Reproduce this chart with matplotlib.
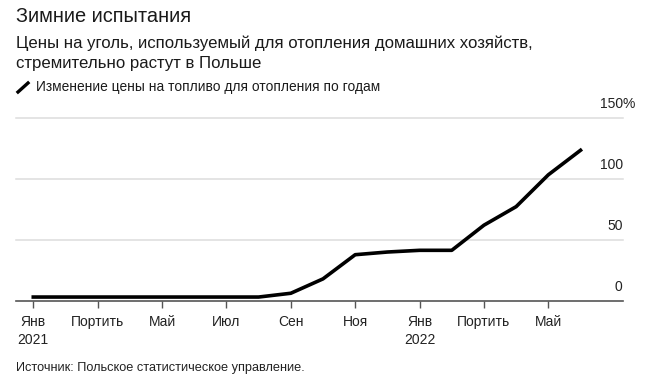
import matplotlib.pyplot as plt
import matplotlib.transforms as mtransforms

plt.rcParams['font.family'] = ['Liberation Sans', 'DejaVu Sans']

# monthly year-on-year change, Jan 2021 .. Jun 2022 (%)
months = list(range(18))
change = [3.0, 3.0, 3.0, 3.0, 3.0, 3.0, 3.0, 3.0, 6.1, 17.9, 37.7, 39.9,
          41.3, 41.3, 61.9, 77.1, 103.2, 123.3]

tick_pos = [0, 2, 4, 6, 8, 10, 12, 14, 16]
tick_labels = ["Янв\n2021", "Портить", "Май", "Июл", "Сен", "Ноя",
               "Янв\n2022", "Портить", "Май"]
y_ticks = [0, 50, 100, 150]
y_labels = ["0", "50", "100", "150"]

W, H = 656, 389
fig = plt.figure(figsize=(W / 100, H / 100), dpi=100)
ax = fig.add_axes([16 / W, 1 - 300.7 / H, 606.7 / W, 183 / H])

for v in y_ticks[1:]:
    ax.axhline(v, color="#dddddd", lw=1.1, zorder=1, clip_on=False)

ax.plot(months, change, color="black", lw=2.6, zorder=3, clip_on=False)

ax.set_xlim(-0.537, 18.31)
ax.set_ylim(0, 150)
ax.set_yticks([])
ax.set_xticks(tick_pos)
ax.set_xticklabels(tick_labels, fontsize=10, color="#222222", linespacing=1.3)
ax.tick_params(axis="x", length=5, width=1, color="#555555", pad=5.5)

for s in ["top", "right", "left"]:
    ax.spines[s].set_visible(False)
ax.spines["bottom"].set_color("#555555")
ax.spines["bottom"].set_linewidth(1.2)
ax.spines["bottom"].set_zorder(4)

trans = mtransforms.blended_transform_factory(ax.transAxes, ax.transData)
offset = mtransforms.ScaledTranslation(0, 13.5 / 100, fig.dpi_scale_trans)
for v, lab in zip(y_ticks, y_labels):
    ax.text(1.0, v, lab, ha="right", va="center", fontsize=10,
            color="#222222", transform=trans + offset)
ax.text(1.0, 150, "%", ha="left", va="center", fontsize=10,
        color="#222222", transform=trans + offset)

fig.text(16 / W, 1 - 17 / H, "Зимние испытания", fontsize=14.4,
         color="#1a1a1a", va="center", ha="left")
fig.text(16 / W, 1 - 43.3 / H,
         "Цены на уголь, используемый для отопления домашних хозяйств,",
         fontsize=12.1, color="#1a1a1a", va="center", ha="left")
fig.text(16 / W, 1 - 63.3 / H, "стремительно растут в Польше",
         fontsize=12.1, color="#1a1a1a", va="center", ha="left")

# legend marker
fig.lines.append(plt.Line2D([18 / W, 28 / W], [1 - 92 / H, 1 - 83 / H],
                            color="black", lw=2.4, transform=fig.transFigure))
fig.text(36 / W, 1 - 87.3 / H,
         "Изменение цены на топливо для отопления по годам",
         fontsize=9.9, color="#1a1a1a", va="center", ha="left")

fig.text(16 / W, 1 - 368 / H, "Источник: Польское статистическое управление.",
         fontsize=9.2, color="#222222", va="center", ha="left")

fig.savefig("out.png", dpi=100)
